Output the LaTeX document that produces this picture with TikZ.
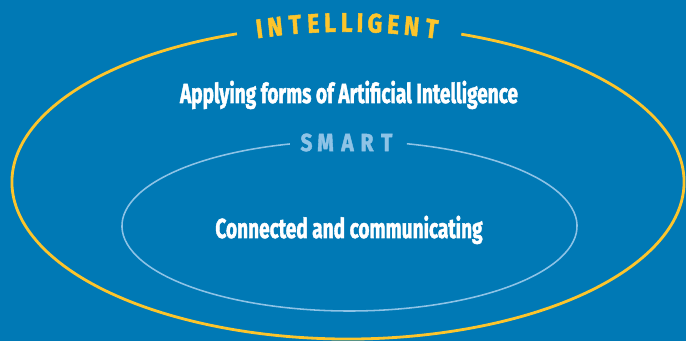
\documentclass[tikz,border=0pt]{standalone}
\usepackage{fontspec}
\setmainfont{Fira Sans}[BoldFeatures={FakeBold=2}]
\definecolor{bgblue}{HTML}{0079B5}
\definecolor{gold}{HTML}{FDC52B}
\definecolor{paleblue}{HTML}{8EC3E6}
\tikzset{
  ring/.style={line width=2pt, draw=gold},
  innerring/.style={line width=1.1pt, draw=paleblue},
  caption/.style={text=white, font=\fontsize{19.5}{22}\selectfont\bfseries, xscale=0.695, anchor=base},
  bigletter/.style={text=gold, font=\fontsize{19}{20}\selectfont\bfseries, xscale=0.85, inner sep=0pt},
  smallletter/.style={text=paleblue, font=\fontsize{17.5}{18}\selectfont\bfseries, xscale=0.85, inner sep=0pt}
}
\begin{document}
\begin{tikzpicture}[x=0.025cm, y=0.025cm]
\fill[bgblue] (0,0) rectangle (686,341);
\useasboundingbox (0,0) rectangle (686,341);
%rings, left open at the top for the labels
\coordinate (outer) at (348,159);
\coordinate (inner) at (349.5,115);
\draw[ring] (outer) ++(109.3:336 and 157) arc[start angle=109.3, end angle=430.3, x radius=336, y radius=157];
\draw[innerring] (inner) ++(105.2:227.5 and 85) arc[start angle=105.2, end angle=435.4, x radius=227.5, y radius=85];

%intelligent, letters on an arc
\node[bigletter, rotate=8.3] (w1) at (259.3,312.3) {I};
\node[bigletter, rotate=6.8] (w2) at (275,314.3) {N};
\node[bigletter, rotate=4.8] (w3) at (295,316.4) {T};
\node[bigletter, rotate=3.1] (w4) at (313.3,317.6) {E};
\node[bigletter, rotate=1.5] (w5) at (330,318.3) {L};
\node[bigletter, rotate=-0.1] (w6) at (346.7,318.5) {L};
\node[bigletter, rotate=-1.4] (w7) at (360,318.3) {I};
\node[bigletter, rotate=-2.8] (w8) at (375,317.8) {G};
\node[bigletter, rotate=-4.6] (w9) at (393.3,316.6) {E};
\node[bigletter, rotate=-6.3] (w10) at (411.7,314.8) {N};
\node[bigletter, rotate=-8.3] (w11) at (431.7,312.3) {T};

%smart
\node[smallletter] (s1) at (306.5,198.5) {S};
\node[smallletter] (s2) at (325.5,198.5) {M};
\node[smallletter] (s3) at (347.5,198.5) {A};
\node[smallletter] (s4) at (367,198.5) {R};
\node[smallletter] (s5) at (386.7,198.5) {T};

%captions
\node[caption] (ai) at (349,238) {Applying forms of Artificial Intelligence};
\node[caption] (cc) at (349,103) {Connected and communicating};
\end{tikzpicture}
\end{document}
